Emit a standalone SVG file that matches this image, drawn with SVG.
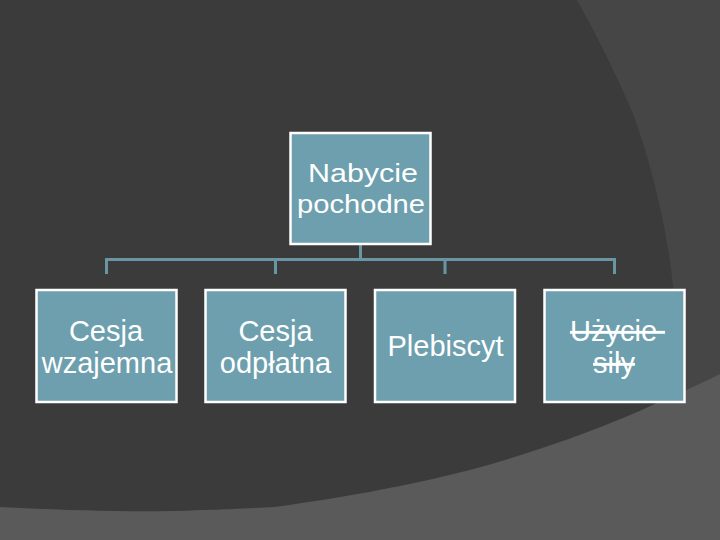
<svg xmlns="http://www.w3.org/2000/svg" width="720" height="540" viewBox="0 0 720 540">
  <style>
    .box { fill: #6d9fae; stroke: #ffffff; stroke-width: 2.5; }
    .lbl { fill: #ffffff; font-family: "Liberation Sans", Arial, sans-serif; font-size: 29px; text-anchor: middle; }
    .root { font-size: 26.5px; }
    .strike { text-decoration: line-through; }
    .conn { fill: none; stroke: #6896a4; stroke-width: 3; }
  </style>
  <g id="background">
    <rect x="0" y="0" width="720" height="540" fill="#464646"/>
    <path d="M0,0 L577,0 C596,34 618,78 633,114 C650,160 667,225 673,286 C677,320 681,345 684,400 L684,540 L0,540 Z" fill="#3b3b3b"/>
    <path d="M0,507 C60,510 120,512 174,511 C210,510 240,509 275,507 C360,495 440,480 505,460 C560,443 610,425 657,403 C680,393 700,384 720,374 L720,540 L0,540 Z" fill="#5a5a5a"/>
  </g>
  <g id="connectors">
    <path class="conn" d="M360.5,245 L360.5,259.5"/>
    <path class="conn" d="M106.5,274 L106.5,259.5 L614.5,259.5 L614.5,274"/>
    <path class="conn" d="M275.5,259.5 L275.5,274"/>
    <path class="conn" d="M445,259.5 L445,274"/>
  </g>
  <g id="root">
    <rect class="box" x="290.5" y="133" width="140" height="111"/>
    <text class="lbl root" x="363" y="182" textLength="110" lengthAdjust="spacingAndGlyphs">Nabycie</text>
    <text class="lbl root" x="361" y="213" textLength="128" lengthAdjust="spacingAndGlyphs">pochodne</text>
  </g>
  <g id="cesja-wzajemna">
    <rect class="box" x="36.5" y="290" width="140" height="112"/>
    <text class="lbl" x="106" y="341">Cesja</text>
    <text class="lbl" x="107" y="373">wzajemna</text>
  </g>
  <g id="cesja-odplatna">
    <rect class="box" x="205.5" y="290" width="140" height="112"/>
    <text class="lbl" x="275.5" y="341">Cesja</text>
    <text class="lbl" x="275.5" y="373">odpłatna</text>
  </g>
  <g id="plebiscyt">
    <rect class="box" x="375" y="290" width="140" height="112"/>
    <text class="lbl" x="445.5" y="356">Plebiscyt</text>
  </g>
  <g id="uzycie-sily">
    <rect class="box" x="544.5" y="290" width="140" height="112"/>
    <text class="lbl strike" x="570" y="341" style="text-anchor:start">Użycie&#160;</text>
    <text class="lbl strike" x="614" y="373">siły</text>
  </g>
</svg>
